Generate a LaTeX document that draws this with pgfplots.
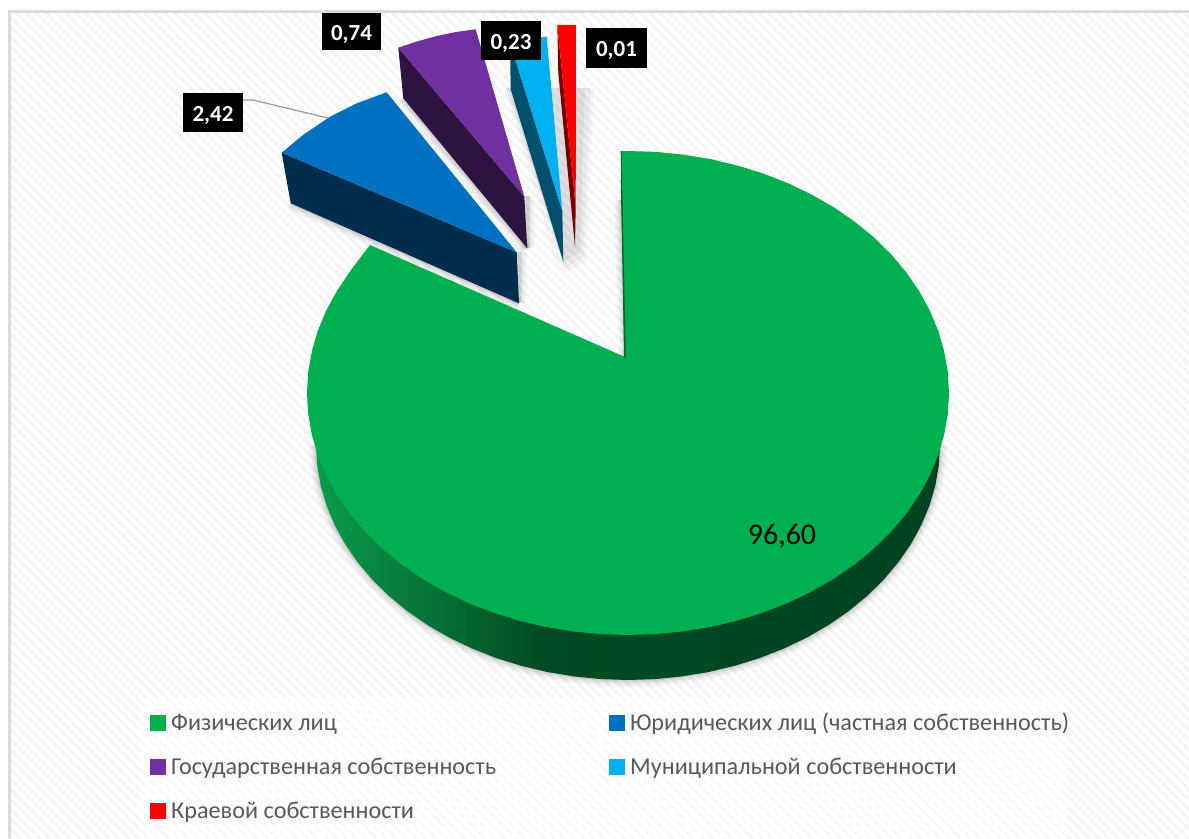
\documentclass[border=0pt]{standalone}
\usepackage{pgfplots}
\usepackage{pgfplotstable}
\usepackage{fontspec}
\setmainfont{Carlito}
\usetikzlibrary{patterns.meta}
\pgfplotsset{compat=1.18}
\definecolor{cgreen}{HTML}{00B050}
\definecolor{cblue}{HTML}{0070C0}
\definecolor{cpurple}{HTML}{7030A0}
\definecolor{ccyan}{HTML}{00B0F0}
\definecolor{cred}{HTML}{FF0000}
\pgfdeclarehorizontalshading{greenwall}{100bp}{rgb(0bp)=(0.04,0.61,0.30); rgb(25bp)=(0.04,0.61,0.30); rgb(31.7bp)=(0.03,0.49,0.235); rgb(38.1bp)=(0.012,0.376,0.176); rgb(43bp)=(0,0.294,0.137); rgb(75bp)=(0,0.263,0.122); rgb(100bp)=(0,0.263,0.122)}
\pgfplotstableread{
x y
621.7 151
628 151
656 151.9
683.7 154.7
711.1 159.2
737.8 165.6
763.7 173.7
788.5 183.4
812.1 194.8
834.3 207.6
855 221.9
873.9 237.4
891 254.2
906 272
918.9 290.7
929.6 310.2
938.1 330.4
944.1 351
947.8 371.9
949 393
947.8 414.1
944.1 435
938.1 455.6
929.6 475.8
918.9 495.3
906 514
891 531.8
873.9 548.6
855 564.1
834.3 578.4
812.1 591.2
788.5 602.6
763.7 612.3
737.8 620.4
711.1 626.8
683.7 631.3
656 634.1
628 635
600 634.1
572.3 631.3
544.9 626.8
518.2 620.4
492.3 612.3
467.5 602.6
443.9 591.2
421.7 578.4
401 564.1
382.1 548.6
365 531.8
350 514
337.1 495.3
326.4 475.8
317.9 455.6
311.9 435
308.2 414.1
307 393
308.2 371.9
311.9 351
317.9 330.4
326.4 310.2
337.1 290.7
351 270
370 245
625 357
}\greentop
\pgfplotstableread{
x y
940 445
938.8 465.5
935.3 485.8
929.4 505.8
921.2 525.4
910.8 544.3
898.2 562.5
883.6 579.8
867 596.1
848.6 611.2
828.6 625
807 637.5
784 648.5
759.9 658
734.7 665.8
708.7 672
682.2 676.4
655.2 679.1
628 680
600.8 679.1
573.8 676.4
547.3 672
521.3 665.8
496.1 658
472 648.5
449 637.5
427.4 625
407.4 611.2
389 596.1
372.4 579.8
357.8 562.5
345.2 544.3
334.8 525.4
326.6 505.8
320.7 485.8
317.2 465.5
316 445
}\greenwall
\pgfplotstableread{
x y
281.7 152.7
303 135
330 116.7
356.7 103.3
386.7 92.3
516.7 252.3
}\bluetop
\pgfplotstableread{
x y
281.7 152.7
290.7 203.3
519 303.3
516.7 252.3
}\blueside
\pgfplotstableread{
x y
398.3 47.7
417 41.5
436.7 36
456 32
475.7 29.3
524.3 196.7
}\purpletop
\pgfplotstableread{
x y
398.3 47.7
403.3 98.3
527.3 248.3
524.3 196.7
}\purpleside
\pgfplotstableread{
x y
510 42
546.7 36.7
562.3 211
}\cyantop
\pgfplotstableread{
x y
510 42
510.7 89.3
563.3 261.7
562.3 211
}\cyanside
\pgfplotstableread{
x y
557.3 25
576 25
575.7 206.7
}\redtop
\pgfplotstableread{
x y
557.3 25
558.3 73
575 246.7
575.7 206.7
}\redside
\newcommand\shadowset[2]{%
  \addplot[forget plot, draw=black, line width=#1, opacity=#2] table {\greenwall};
  \addplot[forget plot, draw=black, line width=#1, opacity=#2] coordinates {(290.7,203.3)(519,303.3)};
  \addplot[forget plot, draw=black, line width=#1, opacity=#2] coordinates {(403.3,98.3)(527.3,248.3)};
  \addplot[forget plot, draw=black, line width=#1, opacity=#2] coordinates {(621,200)(626,358)};
  \addplot[forget plot, draw=black, line width=#1, opacity=#2] coordinates {(519,252)(519,303)};
  \addplot[forget plot, draw=black, line width=#1, opacity=#2] coordinates {(527,196)(527,248)};
}
\newcommand\lift[1]{\raisebox{-8.8bp}[0pt][0pt]{#1}}
\begin{document}
\begin{tikzpicture}
\begin{axis}[
  scale only axis, width=1189bp, height=838bp,
  xmin=0, xmax=1189, ymin=0, ymax=838, y dir=reverse,
  hide axis, clip=true,
  legend columns=2,
  legend image code/.code={\fill[#1,draw=none] (0bp,-8bp) rectangle (16bp,8bp);},
  legend style={
    at={(axis cs:147,709)}, anchor=north west, draw=none, fill=none,
    font=\fontsize{24.2bp}{29bp}\selectfont, text=black!65,
    row sep=22bp,
    /tikz/column 1/.style={column sep=3bp},
    /tikz/column 2/.style={column sep=111bp},
    /tikz/column 3/.style={column sep=3bp},
    cells={anchor=west},
    nodes={inner sep=2bp},
  },
]
% background
\addplot[forget plot, draw=none, fill=white] coordinates {(0,0)(1189,0)(1189,838)(0,838)} -- cycle;
\addplot[forget plot, draw=none, pattern={Lines[angle=-45,distance=7bp,line width=3.4bp]}, pattern color=black!4] coordinates {(9,11)(1189,11)(1189,838)(9,838)} -- cycle;
\addplot[forget plot, draw=white, fill=white, opacity=0.45] coordinates {(140,698)(1067,698)(1067,838)(140,838)} -- cycle;
\addplot[forget plot, draw=black!14, line width=2.4bp] coordinates {(9.5,838)(9.5,11.5)(1189,11.5)};

% soft shadows
\shadowset{14bp}{0.03}
\shadowset{10bp}{0.04}
\shadowset{6bp}{0.05}
\shadowset{3bp}{0.06}
\addplot[forget plot, draw=none, fill=black, opacity=0.03] coordinates {(505,88)(594,88)(586,262)(565,272)(556,262)} -- cycle;
\addplot[forget plot, draw=none, fill=black, opacity=0.04] coordinates {(506,88)(590,88)(583,258)(565,268)} -- cycle;
\addplot[forget plot, draw=none, fill=black, opacity=0.05] coordinates {(508,88)(585,88)(580,252)(563,262)} -- cycle;

% pie
\addplot[forget plot, draw=none, shading=greenwall] table {\greenwall} -- cycle;
\addplot[forget plot, draw=none, fill=cgreen!60!black] coordinates {(620.7,151)(622,151)(626,358)(624,357)} -- cycle;
\addplot[draw=none, fill=cgreen] table {\greentop} -- cycle;
\addlegendentry{Физических лиц}
\addplot[forget plot, draw=none, fill=cgreen!60!black] coordinates {(620.7,180)(622,180)(626,358)(624.5,357)} -- cycle;

\addplot[forget plot, draw=none, fill=cblue!40!black] table {\blueside} -- cycle;
\addplot[draw=none, fill=cblue] table {\bluetop} -- cycle;
\addlegendentry{Юридических лиц (частная собственность)}
\addplot[forget plot, draw=none, fill=cpurple!40!black] table {\purpleside} -- cycle;
\addplot[draw=none, fill=cpurple] table {\purpletop} -- cycle;
\addlegendentry{Государственная собственность}
\addplot[forget plot, draw=none, fill=ccyan!45!black] table {\cyanside} -- cycle;
\addplot[draw=none, fill=ccyan] table {\cyantop} -- cycle;
\addlegendentry{Муниципальной собственности}
\addplot[forget plot, draw=none, fill=cred!48!black] table {\redside} -- cycle;
\addplot[draw=none, fill=cred] table {\redtop} -- cycle;
\addlegendentry{Краевой собственности}

% leader
\addplot[forget plot, draw=black!40, line width=1.2bp] coordinates {(243,100)(253,100)(328,118)};

% labels
\node[font=\fontsize{30bp}{34bp}\selectfont, text=black] at (axis cs:782,536) {96,60};
\tikzset{lab/.style={fill=black, text=white, font=\fontsize{23bp}{26bp}\selectfont\bfseries, inner sep=0pt, anchor=center}}
\node[lab, minimum width=60bp, minimum height=39bp] at (axis cs:213,112.5) {\lift{2,42}};
\node[lab, minimum width=59bp, minimum height=37bp] at (axis cs:351.5,31.5) {\lift{0,74}};
\node[lab, minimum width=60bp, minimum height=39bp] at (axis cs:511,40.5) {\lift{0,23}};
\node[lab, minimum width=61bp, minimum height=40bp] at (axis cs:616.5,48) {\lift{0,01}};
\end{axis}
\end{tikzpicture}
\end{document}
